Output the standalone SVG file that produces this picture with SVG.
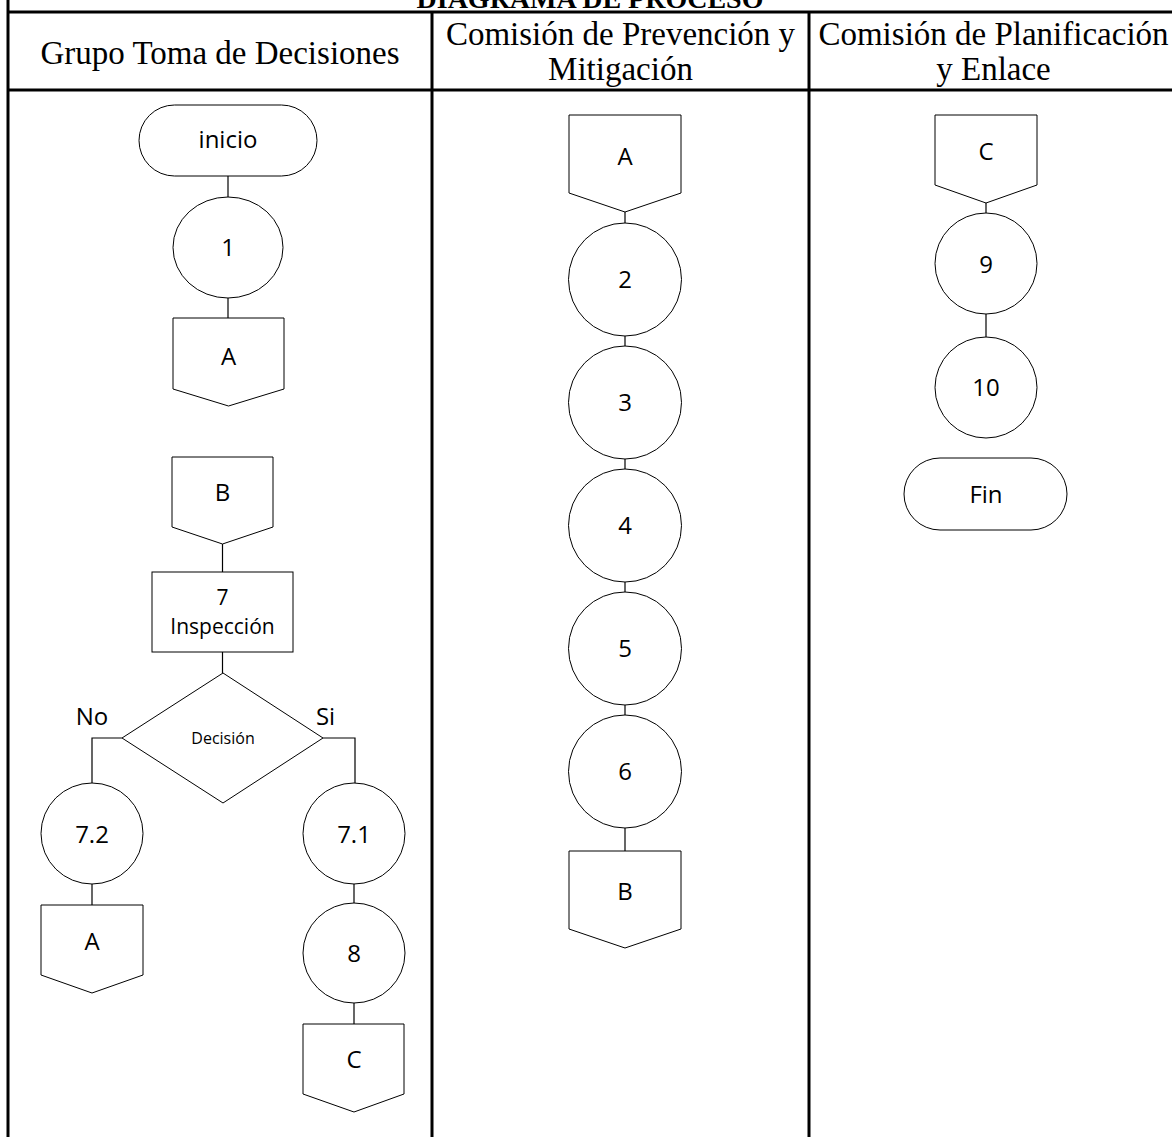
<svg xmlns="http://www.w3.org/2000/svg" width="1172" height="1137" viewBox="0 0 1172 1137">
<style>
.grid{stroke:#000;stroke-width:3;fill:none}
.shape{fill:#fff;stroke:#000;stroke-width:1}
.conn{stroke:#000;stroke-width:1.2;fill:none}
.hdr{font-family:"Liberation Serif",serif;font-size:33px;fill:#000;text-anchor:middle}
.ttl{font-family:"Liberation Serif",serif;font-size:28px;font-weight:bold;fill:#000;text-anchor:middle}
.lbl{font-family:"Open Sans","Noto Sans",sans-serif;font-size:24px;fill:#000;text-anchor:middle}
.lbs{font-family:"Open Sans","Noto Sans",sans-serif;font-size:21px;fill:#000;text-anchor:middle}
.lbx{font-family:"Open Sans","Noto Sans",sans-serif;font-size:16px;fill:#000;text-anchor:middle}
</style>
<rect width="1172" height="1137" fill="#fff"/>
<g id="table">
<line class="grid" x1="8" y1="0" x2="8" y2="1137"/>
<line class="grid" x1="7" y1="12" x2="1172" y2="12"/>
<line class="grid" x1="7" y1="90" x2="1172" y2="90"/>
<line class="grid" x1="432" y1="12" x2="432" y2="1137"/>
<line class="grid" x1="809" y1="12" x2="809" y2="1137"/>
<text class="ttl" x="590" y="8">DIAGRAMA DE PROCESO</text>
<text class="hdr" x="220" y="64">Grupo Toma de Decisiones</text>
<text class="hdr" x="620.5" y="45">Comisión de Prevención y</text>
<text class="hdr" x="620.5" y="80">Mitigación</text>
<text class="hdr" x="993.5" y="45">Comisión de Planificación</text>
<text class="hdr" x="993.5" y="80">y Enlace</text>
</g>
<g id="connectors">
<line class="conn" x1="228" y1="176" x2="228" y2="197"/>
<line class="conn" x1="228" y1="298" x2="228" y2="318"/>
<line class="conn" x1="222.5" y1="544" x2="222.5" y2="572"/>
<line class="conn" x1="222.5" y1="652" x2="222.5" y2="673"/>
<polyline class="conn" points="122,738 92,738 92,783"/>
<polyline class="conn" points="323,738 355,738 355,783"/>
<line class="conn" x1="92" y1="884" x2="92" y2="905"/>
<line class="conn" x1="354" y1="884" x2="354" y2="903"/>
<line class="conn" x1="354" y1="1003" x2="354" y2="1024"/>
<line class="conn" x1="625" y1="212" x2="625" y2="223"/>
<line class="conn" x1="625" y1="336" x2="625" y2="346"/>
<line class="conn" x1="625" y1="459" x2="625" y2="469"/>
<line class="conn" x1="625" y1="582" x2="625" y2="592"/>
<line class="conn" x1="625" y1="705" x2="625" y2="715"/>
<line class="conn" x1="625" y1="828" x2="625" y2="851"/>
<line class="conn" x1="986" y1="203" x2="986" y2="213"/>
<line class="conn" x1="986" y1="314" x2="986" y2="337"/>
</g>
<g id="n-inicio"><rect class="shape" x="139" y="105" width="178" height="71" rx="35.5"/><text class="lbl" x="228" y="148">inicio</text></g>
<g id="n-1"><ellipse class="shape" cx="228" cy="247.5" rx="55" ry="50.5"/><text class="lbl" x="228" y="256">1</text></g>
<g id="n-A1"><path class="shape" d="M173,318H284V389L228.5,406L173,389Z"/><text class="lbl" x="228.5" y="365">A</text></g>
<g id="n-B1"><path class="shape" d="M172,457H273V527L222.5,544L172,527Z"/><text class="lbl" x="222.5" y="501">B</text></g>
<g id="n-7"><rect class="shape" x="152" y="572" width="141" height="80"/><text class="lbs" x="222.5" y="605">7</text><text class="lbs" x="222.5" y="634">Inspección</text></g>
<g id="n-dec"><path class="shape" d="M223,673L323,738L223,803L122,738Z"/><text class="lbx" x="223" y="744">Decisión</text></g>
<g id="l-no"><text class="lbl" x="92" y="725">No</text></g>
<g id="l-si"><text class="lbl" x="325.5" y="725">Si</text></g>
<g id="n-72"><ellipse class="shape" cx="92" cy="833.5" rx="51" ry="50.5"/><text class="lbl" x="92" y="843">7.2</text></g>
<g id="n-A2"><path class="shape" d="M41,905H143V975L92,993L41,975Z"/><text class="lbl" x="92" y="950">A</text></g>
<g id="n-71"><ellipse class="shape" cx="354" cy="833.5" rx="51" ry="50.5"/><text class="lbl" x="354" y="843">7.1</text></g>
<g id="n-8"><ellipse class="shape" cx="354" cy="953" rx="51" ry="50"/><text class="lbl" x="354" y="962">8</text></g>
<g id="n-C1"><path class="shape" d="M303,1024H404V1094L354,1112L303,1094Z"/><text class="lbl" x="354" y="1068">C</text></g>
<g id="n-A3"><path class="shape" d="M569,115H681V193L625,212L569,193Z"/><text class="lbl" x="625" y="165">A</text></g>
<g id="n-2"><circle class="shape" cx="625" cy="279.5" r="56.5"/><text class="lbl" x="625" y="288">2</text></g>
<g id="n-3"><circle class="shape" cx="625" cy="402.5" r="56.5"/><text class="lbl" x="625" y="411">3</text></g>
<g id="n-4"><circle class="shape" cx="625" cy="525.5" r="56.5"/><text class="lbl" x="625" y="534">4</text></g>
<g id="n-5"><circle class="shape" cx="625" cy="648.5" r="56.5"/><text class="lbl" x="625" y="657">5</text></g>
<g id="n-6"><circle class="shape" cx="625" cy="771.5" r="56.5"/><text class="lbl" x="625" y="780">6</text></g>
<g id="n-B2"><path class="shape" d="M569,851H681V929L625,948L569,929Z"/><text class="lbl" x="625" y="900">B</text></g>
<g id="n-C2"><path class="shape" d="M935,115H1037V185L986,203L935,185Z"/><text class="lbl" x="986" y="160">C</text></g>
<g id="n-9"><ellipse class="shape" cx="986" cy="263.5" rx="51" ry="50.5"/><text class="lbl" x="986" y="273">9</text></g>
<g id="n-10"><ellipse class="shape" cx="986" cy="387.5" rx="51" ry="50.5"/><text class="lbl" x="986" y="396">10</text></g>
<g id="n-fin"><rect class="shape" x="904" y="458" width="163" height="72" rx="36"/><text class="lbl" x="986" y="503">Fin</text></g>
</svg>
